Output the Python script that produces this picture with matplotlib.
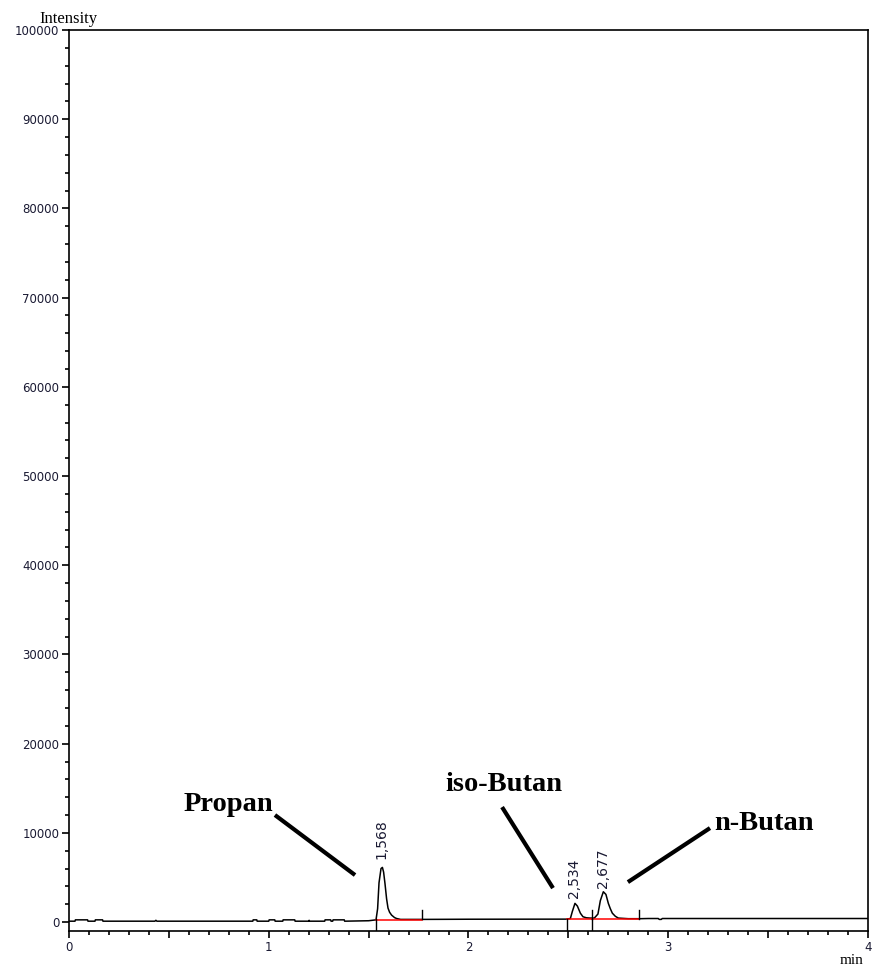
import matplotlib
matplotlib.use("Agg")
import matplotlib.pyplot as plt
from matplotlib.ticker import MultipleLocator, FuncFormatter

# ---- data ----
time_min = [0.0, 0.03, 0.032, 0.093, 0.095, 0.13, 0.132, 0.168, 0.17, 0.43, 0.435, 0.44,
            0.92, 0.922, 0.94, 0.942, 1.0, 1.002, 1.03, 1.032, 1.07, 1.072, 1.13, 1.132,
            1.2, 1.202, 1.205, 1.28, 1.282, 1.31, 1.312, 1.32, 1.322, 1.378, 1.38, 1.5,
            1.537, 1.545, 1.552, 1.562, 1.569, 1.575, 1.582, 1.59, 1.597, 1.605, 1.615,
            1.63, 1.64, 1.66, 1.766, 2.0, 2.49, 2.51, 2.52, 2.533, 2.545, 2.56, 2.573,
            2.59, 2.608, 2.63, 2.648, 2.66, 2.675, 2.688, 2.70, 2.71, 2.72, 2.735, 2.75,
            2.8, 2.86, 2.9, 2.95, 2.955, 2.965, 2.97, 4.0]
intensity = [100, 100, 250, 250, 100, 100, 250, 250, 100, 100, 200, 100,
             100, 250, 250, 100, 100, 250, 250, 100, 100, 250, 250, 100,
             100, 200, 100, 100, 250, 250, 100, 100, 250, 250, 100, 150,
             250, 1500, 4400, 6000, 6130, 5600, 4300, 2600, 1570, 1100, 780,
             500, 400, 300, 300, 320, 330, 400, 1200, 2100, 1800, 1000, 600,
             480, 450, 450, 900, 2400, 3400, 3100, 2100, 1500, 1000, 650, 450,
             380, 380, 400, 400, 300, 300, 400, 400]

peak_rt = [1.568, 2.534, 2.677]
peak_rt_labels = ["1,568", "2,534", "2,677"]
peak_apex = [6130, 2100, 3400]

# integration baselines (start, end, level)
base_start = [1.537, 2.493, 2.617]
base_end = [1.766, 2.617, 2.853]
base_level = [260, 320, 330]

compounds = ["Propan", "iso-Butan", "n-Butan"]

# ---- layout constants ----
W, H = 892, 969
fig = plt.figure(figsize=(W / 100, H / 100), dpi=100)
ax = fig.add_axes([69 / W, 1 - 931 / H, (868 - 69) / W, (931 - 30) / H])

ax.plot(time_min, intensity, color="black", lw=1.1)

for s, e, lvl in zip(base_start, base_end, base_level):
    ax.plot([s, e], [lvl, lvl], color="red", lw=1.1, zorder=3)

# integration markers
mark_down = [1.537, 2.493, 2.617]
mark_up = [1.766, 2.617, 2.853]
for m in mark_down:
    ax.plot([m, m], [300, -1000], color="black", lw=1.0, zorder=4)
for m in mark_up:
    ax.plot([m, m], [300, 1300], color="black", lw=1.0, zorder=4)

label_offset = [900, 550, 400]
for rt, lab, ap, off in zip(peak_rt, peak_rt_labels, peak_apex, label_offset):
    ax.text(rt - 0.005, ap + off, lab, rotation=90, ha="center", va="bottom",
            fontsize=10, family="DejaVu Sans", color="#1a1a33")

# compound annotations
name_pos = [(0.80, 13200), (2.175, 15400), (3.48, 11000)]
line_pos = [((1.031, 12000), (1.432, 5270)),
            ((2.168, 12890), (2.423, 3810)),
            ((3.209, 10540), (2.798, 4480))]
for name, (tx, ty), ((x0, y0), (x1, y1)) in zip(compounds, name_pos, line_pos):
    ax.text(tx, ty, name, ha="center", va="center", fontsize=20.5,
            fontweight="bold", family="Liberation Serif")
    ax.plot([x0, x1], [y0, y1], color="black", lw=3, solid_capstyle="butt")

ax.set_xlim(0, 4)
ax.set_ylim(-1000, 100000)
ax.yaxis.set_major_locator(MultipleLocator(10000))
ax.yaxis.set_minor_locator(MultipleLocator(2000))
ax.xaxis.set_major_locator(MultipleLocator(0.5))
ax.xaxis.set_minor_locator(MultipleLocator(0.1))
ax.xaxis.set_major_formatter(FuncFormatter(lambda v, p: f"{int(v)}" if abs(v - round(v)) < 1e-6 else ""))
ax.yaxis.set_major_formatter(FuncFormatter(lambda v, p: f"{int(v)}"))

ax.tick_params(axis="both", which="major", direction="out", length=5, width=1.2,
               labelsize=8.5, colors="black", labelcolor="#1a1a33", pad=2)
ax.tick_params(axis="both", which="minor", direction="out", length=3, width=1.2)
for sp in ax.spines.values():
    sp.set_linewidth(1.2)

fig.text(68 / W, 1 - 23 / H, "Intensity", ha="center", va="baseline", fontsize=12,
         family="Liberation Serif")
fig.text(852 / W, 1 - 964 / H, "min", ha="center", va="baseline", fontsize=11,
         family="Liberation Serif")

fig.savefig("out.png", dpi=100)
